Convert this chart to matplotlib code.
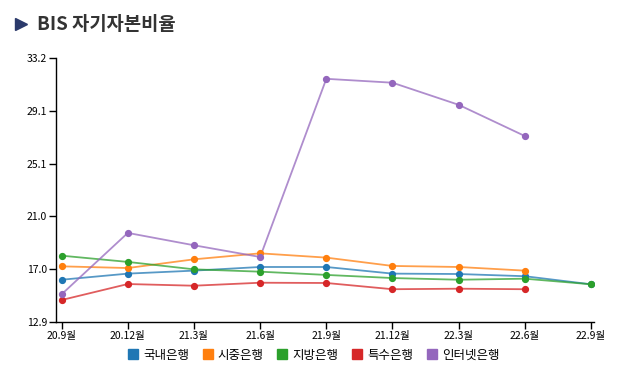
import numpy as np
import matplotlib.pyplot as plt
from matplotlib.lines import Line2D

plt.rcParams['font.family'] = ['Noto Sans CJK KR', 'DejaVu Sans']

# data
quarters = ['20.9월', '20.12월', '21.3월', '21.6월', '21.9월', '21.12월', '22.3월', '22.6월', '22.9월']
names = ['국내은행', '시중은행', '지방은행', '특수은행', '인터넷은행']
domestic = [16.15, 16.62, 16.85, 17.13, 17.13, 16.62, 16.59, 16.42, 15.8]
commercial = [17.18, 17.05, 17.72, 18.18, 17.85, 17.21, 17.13, 16.85, np.nan]
regional = [18.0, 17.52, 16.95, 16.77, 16.52, 16.28, 16.15, 16.23, 15.8]
special = [14.59, 15.82, 15.69, 15.92, 15.9, 15.42, 15.46, 15.42, np.nan]
internet = [15.03, 19.75, 18.8, 17.9, 31.6, 31.3, 29.6, 27.2, np.nan]
colors = ['#1f77b4', '#ff7f0e', '#2ca02c', '#d62728', '#9467bd']
y_min, y_max = 12.9, 33.2

fig = plt.figure(figsize=(6.18, 3.8), dpi=100)
ax = fig.add_axes([56 / 618, 1 - 322 / 380, 538 / 618, 264 / 380])

x = np.arange(len(quarters))
for vals, c in zip([domestic, commercial, regional, special, internet], colors):
    v = np.array(vals, dtype=float)
    ax.plot(x, v, color=c, lw=1.3, alpha=0.75, zorder=2)
    ax.plot(x, v, 'o', color=c, ms=4.2, zorder=3)

ax.set_xlim(-0.085, 8.045)
ax.set_ylim(y_min, y_max)
yt = np.linspace(y_min, y_max, 6)
ax.set_yticks(yt)
ax.set_yticklabels(['%.1f' % t for t in yt], fontsize=7.5)
ax.set_xticks(x)
ax.set_xticklabels(quarters, fontsize=7.5)
ax.tick_params(length=5, width=1, pad=1.5)
for s in ['top', 'right']:
    ax.spines[s].set_visible(False)
for s in ['left', 'bottom']:
    ax.spines[s].set_linewidth(1)
ax.patch.set_alpha(0)

# title
fig.add_artist(Line2D([21 / 618], [1 - 23.5 / 380], marker='>', color='#2b3a6b',
                      ms=9, transform=fig.transFigure))
fig.text(37 / 618, 1 - 24 / 380, 'BIS 자기자본비율', fontsize=13.5, fontweight='bold',
         color='#333333', va='center', ha='left')

# legend
handles = [Line2D([], [], marker='s', ls='', color=c, ms=7) for c in colors]
fig.legend(handles, names, loc='center', bbox_to_anchor=(313 / 618, 1 - 355 / 380),
           ncol=5, frameon=False, fontsize=9, handletextpad=0.3,
           columnspacing=1.0, handlelength=1.0)

plt.savefig('out.png', dpi=100)
